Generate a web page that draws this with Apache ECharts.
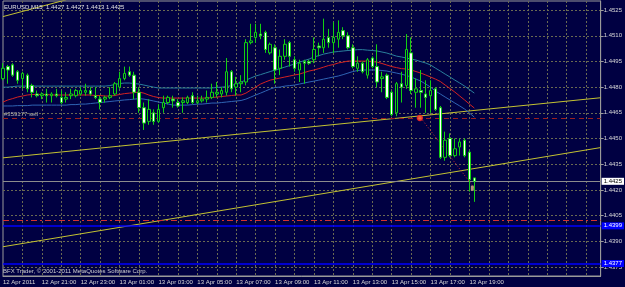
<!DOCTYPE html>
<html><head><meta charset="utf-8">
<script src="https://cdn.jsdelivr.net/npm/echarts@6/dist/echarts.min.js"></script>
<style>html,body{margin:0;padding:0;background:#000042;}#c{width:625px;height:287px;}</style>
</head><body><div id="c"></div>
<script>
// ---- data ----
const symbolTitle = 'EURUSD,M15  1.4427 1.4427 1.4413 1.4425';
const copyright = 'BFX Trader, \u00a9 2001-2011 MetaQuotes Software Corp.';
const xTickLabels = ['12 Apr 2011','12 Apr 21:00','12 Apr 23:00','13 Apr 01:00','13 Apr 03:00','13 Apr 05:00','13 Apr 07:00','13 Apr 09:00','13 Apr 11:00','13 Apr 13:00','13 Apr 15:00','13 Apr 17:00','13 Apr 19:00'];
const yTicks = [1.4375,1.4390,1.4405,1.4420,1.4435,1.4450,1.4465,1.4480,1.4495,1.4510,1.4525];

const opens = [1.4485,1.4492,1.4493,1.4489,1.4485,1.4487,1.4481,1.4476,1.4475,1.4476,
1.4475,1.4476,1.4474,1.4473,1.4475,1.4475,1.4476,1.4477,1.4478,1.4475,
1.4473,1.4473,1.4474,1.4476,1.4480,1.4485,1.4489,1.4487,1.4477,1.4468,
1.4460,1.4465,1.4460,1.4468,1.4471,1.4473,1.4471,1.4471,1.4471,1.4475,
1.4471,1.4472,1.4473,1.4474,1.4476,1.4476,1.4477,1.4489,1.4480,1.4482,
1.4483,1.4506,1.4509,1.4511,1.4512,1.4500,1.4503,1.4491,1.4498,1.4506,
1.4496,1.4490,1.4495,1.4495,1.4496,1.4504,1.4503,1.4509,1.4506,1.4508,
1.4513,1.4510,1.4503,1.4491,1.4494,1.4487,1.4497,1.4492,1.4485,1.4487,
1.4477,1.4465,1.4482,1.4481,1.4500,1.4477,1.4478,1.4476,1.4475,1.4479,
1.4468,1.4439,1.4450,1.4440,1.4445,1.4449,1.4442,1.4427];
const highs = [1.4494,1.4493,1.4494,1.4490,1.4489,1.4488,1.4482,1.4478,1.4477,1.4479,
1.4477,1.4479,1.4478,1.4477,1.4479,1.4479,1.4480,1.4482,1.4480,1.4480,
1.4475,1.4475,1.4480,1.4483,1.4489,1.4492,1.4492,1.4489,1.4480,1.4471,
1.4473,1.4467,1.4470,1.4475,1.4475,1.4475,1.4473,1.4474,1.4475,1.4477,
1.4475,1.4475,1.4478,1.4482,1.4483,1.4480,1.4497,1.4490,1.4486,1.4487,
1.4508,1.4517,1.4517,1.4517,1.4513,1.4506,1.4505,1.4502,1.4508,1.4507,
1.4498,1.4496,1.4496,1.4496,1.4509,1.4506,1.4520,1.4514,1.4518,1.4519,
1.4515,1.4512,1.4505,1.4498,1.4495,1.4497,1.4498,1.4505,1.4489,1.4488,
1.4478,1.4483,1.4489,1.4511,1.4509,1.4485,1.4490,1.4484,1.4484,1.4480,
1.4469,1.4454,1.4453,1.4450,1.4450,1.4450,1.4443,1.4427];
const lows = [1.4484,1.4482,1.4486,1.4482,1.4479,1.4477,1.4474,1.4474,1.4473,1.4471,
1.4471,1.4474,1.4470,1.4471,1.4473,1.4474,1.4475,1.4475,1.4475,1.4473,
1.4467,1.4471,1.4473,1.4475,1.4479,1.4484,1.4486,1.4473,1.4465,1.4455,
1.4458,1.4458,1.4459,1.4465,1.4470,1.4468,1.4468,1.4465,1.4470,1.4470,
1.4470,1.4471,1.4471,1.4473,1.4474,1.4474,1.4475,1.4477,1.4475,1.4477,
1.4481,1.4505,1.4506,1.4508,1.4500,1.4499,1.4482,1.4487,1.4496,1.4492,
1.4489,1.4483,1.4482,1.4493,1.4494,1.4498,1.4500,1.4503,1.4500,1.4503,
1.4508,1.4502,1.4491,1.4489,1.4488,1.4485,1.4491,1.4480,1.4477,1.4473,
1.4463,1.4463,1.4471,1.4479,1.4476,1.4468,1.4468,1.4465,1.4465,1.4466,
1.4438,1.4437,1.4439,1.4439,1.4440,1.4439,1.4419,1.4413];
const closes = [1.4491,1.4490,1.4487,1.4484,1.4488,1.4479,1.4477,1.4475,1.4476,1.4475,
1.4476,1.4475,1.4471,1.4474,1.4476,1.4478,1.4478,1.4478,1.4476,1.4474,
1.4471,1.4474,1.4475,1.4482,1.4485,1.4488,1.4487,1.4477,1.4468,1.4459,
1.4467,1.4460,1.4467,1.4471,1.4474,1.4472,1.4469,1.4472,1.4474,1.4471,
1.4472,1.4473,1.4474,1.4477,1.4477,1.4478,1.4489,1.4479,1.4482,1.4483,
1.4506,1.4507,1.4512,1.4510,1.4502,1.4505,1.4490,1.4498,1.4505,1.4498,
1.4491,1.4494,1.4494,1.4494,1.4502,1.4503,1.4508,1.4506,1.4509,1.4512,
1.4510,1.4503,1.4492,1.4494,1.4489,1.4496,1.4492,1.4483,1.4486,1.4474,
1.4464,1.4482,1.4480,1.4502,1.4478,1.4479,1.4477,1.4474,1.4478,1.4467,
1.4439,1.4449,1.4440,1.4444,1.4448,1.4440,1.4426,1.4425];

const maUpper = [1.44800,1.44800,1.44803,1.44806,1.44806,1.44806,1.44806,1.44806,1.44806,1.44806,
1.44806,1.44806,1.44806,1.44806,1.44806,1.44806,1.44806,1.44806,1.44806,1.44806,
1.44806,1.44806,1.44809,1.44815,1.44821,1.44824,1.44824,1.44821,1.44818,1.44812,
1.44806,1.44800,1.44795,1.44795,1.44795,1.44795,1.44795,1.44795,1.44795,1.44795,
1.44795,1.44795,1.44795,1.44795,1.44798,1.44800,1.44803,1.44809,1.44818,1.44830,
1.44841,1.44853,1.44865,1.44873,1.44882,1.44891,1.44900,1.44908,1.44917,1.44926,
1.44935,1.44946,1.44955,1.44964,1.44976,1.44984,1.44993,1.44999,1.45005,1.45008,
1.45011,1.45014,1.45016,1.45019,1.45019,1.45016,1.45014,1.45011,1.45005,1.44999,
1.44990,1.44981,1.44976,1.44970,1.44964,1.44958,1.44949,1.44941,1.44929,1.44911,
1.44894,1.44876,1.44859,1.44841,1.44824,1.44806,1.44786,1.44765];
const maMiddle = [1.44713,1.44725,1.44733,1.44742,1.44748,1.44754,1.44757,1.44757,1.44757,1.44757,
1.44754,1.44754,1.44754,1.44754,1.44754,1.44754,1.44754,1.44754,1.44754,1.44751,
1.44751,1.44748,1.44748,1.44751,1.44757,1.44762,1.44765,1.44768,1.44771,1.44765,
1.44754,1.44745,1.44739,1.44736,1.44736,1.44736,1.44736,1.44736,1.44736,1.44736,
1.44736,1.44736,1.44736,1.44739,1.44742,1.44745,1.44748,1.44751,1.44754,1.44754,
1.44765,1.44783,1.44800,1.44818,1.44830,1.44841,1.44847,1.44853,1.44859,1.44865,
1.44871,1.44876,1.44885,1.44894,1.44900,1.44908,1.44917,1.44926,1.44932,1.44941,
1.44946,1.44952,1.44952,1.44952,1.44952,1.44952,1.44949,1.44946,1.44938,1.44929,
1.44920,1.44914,1.44908,1.44906,1.44900,1.44891,1.44882,1.44871,1.44859,1.44847,
1.44833,1.44812,1.44792,1.44771,1.44748,1.44725,1.44701,1.44678];
const maLower = [1.44690,1.44690,1.44690,1.44692,1.44692,1.44692,1.44695,1.44695,1.44695,1.44695,
1.44695,1.44695,1.44695,1.44695,1.44698,1.44698,1.44701,1.44701,1.44704,1.44707,
1.44710,1.44713,1.44716,1.44719,1.44722,1.44725,1.44727,1.44730,1.44733,1.44730,
1.44725,1.44719,1.44713,1.44707,1.44701,1.44695,1.44695,1.44695,1.44695,1.44698,
1.44701,1.44701,1.44704,1.44707,1.44707,1.44710,1.44713,1.44716,1.44719,1.44722,
1.44730,1.44742,1.44754,1.44765,1.44777,1.44789,1.44798,1.44800,1.44806,1.44809,
1.44812,1.44818,1.44824,1.44830,1.44835,1.44841,1.44847,1.44853,1.44859,1.44865,
1.44873,1.44882,1.44891,1.44897,1.44900,1.44900,1.44900,1.44900,1.44897,1.44894,
1.44888,1.44882,1.44876,1.44868,1.44859,1.44847,1.44835,1.44818,1.44800,1.44777,
1.44760,1.44742,1.44725,1.44707,1.44690,1.44672,1.44649,1.44625];

// trend lines: [barIndex, price]
const trendUpper = [[0, 1.44387], [123, 1.44738]];
const trendLower = [[0, 1.43868], [123, 1.44447]];
const trendTopLeft = [[0, 1.45212], [13, 1.45310]];

const bidPrice = 1.4425;
const orderPrice = 1.4462;
const orderLabel = '#359177 sell';
const redLevel = 1.4402;
const blueLevels = [1.4399, 1.4377];
const orderTrail = [[86, 1.4462], [97, 1.4421]];

const TOTAL_BARS = 124;
// ---- build ----
const categories = [];
for (let i = 0; i < TOTAL_BARS; i++) {
  const t = 19 * 60 + 15 * i;
  const day = 12 + Math.floor(t / 1440);
  const m = t % 1440;
  const p = n => (n < 10 ? '0' : '') + n;
  categories.push(day + ' Apr ' + p(Math.floor(m / 60)) + ':' + p(m % 60));
}
const candleData = opens.map((o, i) => [o, closes[i], lows[i], highs[i]]);

const BG = '#000042';
const GRID = '#6a6a52';
const LBL = '#d8d8d8';
const FONT = '"Liberation Sans", Arial, sans-serif';
const GREEN = '#12d012';

const chart = echarts.init(document.getElementById('c'), null, {renderer: 'canvas'});
const option = {
  backgroundColor: BG,
  animation: false,
  textStyle: {fontFamily: FONT},
  grid: {left: 2, right: 22, top: 1, bottom: 11, show: true, borderColor: '#9a9a9a', borderWidth: 1, backgroundColor: 'transparent'},
  xAxis: {
    type: 'category', data: categories, boundaryGap: false,
    axisLine: {show: true, lineStyle: {color: '#9a9a9a'}},
    axisTick: {show: false},
    axisLabel: {
      interval: (i) => i % 8 === 0 && i <= 96,
      formatter: (v, i) => xTickLabels[Math.round(i / 8)] || '',
      align: 'left', color: LBL, fontSize: 6, margin: 3, fontFamily: FONT
    },
    splitLine: {show: true, interval: (i) => i % 4 === 0 && i > 0, lineStyle: {color: GRID, type: [2, 2], width: 1}}
  },
  yAxis: {
    type: 'value', position: 'right', min: 1.43697, max: 1.45303, scale: true,
    axisLine: {show: true, lineStyle: {color: '#9a9a9a'}},
    axisTick: {show: true, customValues: yTicks, length: 3, lineStyle: {color: '#9a9a9a'}},
    axisLabel: {customValues: yTicks, formatter: v => v.toFixed(4), color: LBL, fontSize: 6, margin: 3, fontFamily: FONT},
    splitLine: {show: true, lineStyle: {color: GRID, type: [2, 2], width: 1}}
  },
  series: [
    {
      type: 'line', data: trendUpper, symbol: 'none', silent: true, z: 2,
      lineStyle: {color: '#c4c232', width: 1}
    },
    {
      type: 'line', data: trendLower, symbol: 'none', silent: true, z: 2,
      lineStyle: {color: '#c4c232', width: 1}
    },
    {
      type: 'line', data: trendTopLeft, symbol: 'none', silent: true, z: 2,
      lineStyle: {color: '#c4c232', width: 1}
    },
    {
      type: 'line', data: maUpper, symbol: 'none', silent: true, z: 3,
      lineStyle: {color: '#2a7f9c', width: 1}
    },
    {
      type: 'line', data: maMiddle, symbol: 'none', silent: true, z: 3,
      lineStyle: {color: '#d42222', width: 1}
    },
    {
      type: 'line', data: maLower, symbol: 'none', silent: true, z: 3,
      lineStyle: {color: '#2f64b4', width: 1}
    },
    {
      type: 'line', data: orderTrail, symbol: 'none', silent: true, z: 4,
      lineStyle: {color: '#d83030', width: 1, type: [1, 2]}
    },
    {
      type: 'candlestick', data: candleData, barWidth: 3, z: 5,
      itemStyle: {color: BG, color0: '#ffffff', borderColor: GREEN, borderColor0: GREEN, borderColorDoji: GREEN, borderWidth: 1},
      markLine: {
        silent: true, symbol: 'none', precision: 4,
        data: [
          {yAxis: orderPrice, lineStyle: {color: '#9a2020', type: [5, 4], width: 1},
           label: {show: true, position: 'insideStartTop', formatter: orderLabel, color: '#b4b4b4', fontSize: 6, distance: [1, 1], fontFamily: FONT}},
          {yAxis: redLevel, lineStyle: {color: '#d43030', type: [6, 3, 2, 3], width: 1}, label: {show: false}},
          {yAxis: bidPrice, lineStyle: {color: '#8c8c8c', type: 'solid', width: 1},
           label: {show: true, position: 'end', formatter: bidPrice.toFixed(4), backgroundColor: '#ffffff', color: '#000000', padding: [1, 2, 0, 2], fontSize: 6, distance: 1, fontFamily: FONT}},
          {yAxis: blueLevels[0], lineStyle: {color: '#0000ff', type: 'solid', width: 1.5},
           label: {show: true, position: 'end', formatter: blueLevels[0].toFixed(4), backgroundColor: '#0000ff', color: '#ffffff', padding: [1, 2, 0, 2], fontSize: 6, distance: 1, fontFamily: FONT}},
          {yAxis: blueLevels[1], lineStyle: {color: '#0000ff', type: 'solid', width: 1.5},
           label: {show: true, position: 'end', formatter: blueLevels[1].toFixed(4), backgroundColor: '#0000ff', color: '#ffffff', padding: [1, 2, 0, 2], fontSize: 6, distance: 1, fontFamily: FONT}}
        ]
      }
    },
    {
      type: 'scatter', data: [orderTrail[0]], symbol: 'circle', symbolSize: 5, z: 6, silent: true,
      symbolOffset: [-1, 0],
      itemStyle: {color: '#ff8040', borderColor: '#ff2020', borderWidth: 1.5}
    },
    {
      type: 'scatter', data: [orderTrail[1]], symbol: 'rect', symbolSize: [3, 5], z: 6, silent: true,
      symbolOffset: [-2, 0],
      itemStyle: {color: '#dcb98a'}
    }
  ],
  graphic: [
    {type: 'text', left: 4, top: 4, z: 100, style: {text: symbolTitle, fill: '#e0e0e0', font: '6px ' + FONT}},
    {type: 'text', left: 3, top: 268, z: 100, style: {text: copyright, fill: '#d0d0d0', font: '6px ' + FONT}}
  ]
};
chart.setOption(option);
</script>
</body></html>
